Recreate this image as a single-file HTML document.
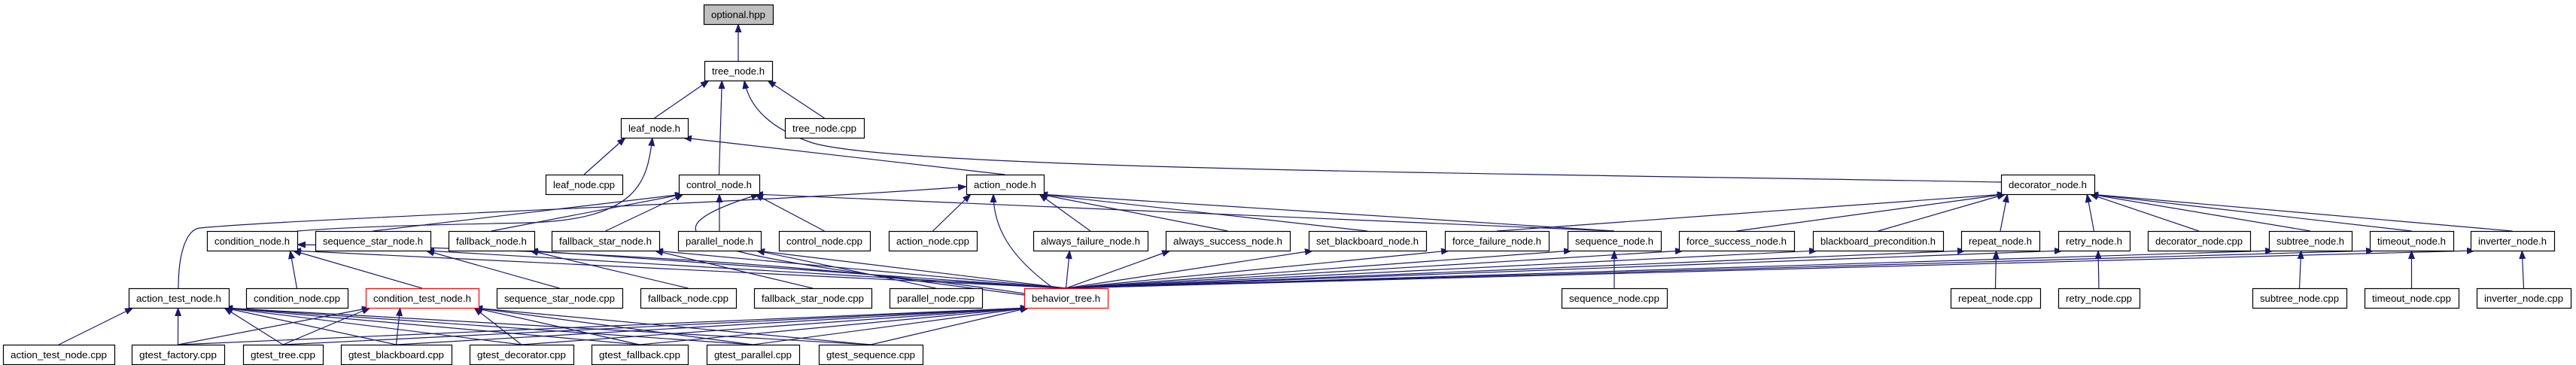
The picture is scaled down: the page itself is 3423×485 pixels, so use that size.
<!DOCTYPE html>
<html><head><meta charset="utf-8">
<style>
html,body{margin:0;padding:0;background:#fff;}
svg{display:block;}
text{font-family:"Liberation Sans",Helvetica,Arial,sans-serif;font-size:13px;fill:#000;}
</style></head>
<body>
<svg id="g" xmlns="http://www.w3.org/2000/svg" width="3423" height="485" viewBox="0 0 3423 485">
<defs>
<marker id="ah" markerWidth="12" markerHeight="9" refX="11" refY="4.5" orient="auto" markerUnits="userSpaceOnUse">
<path d="M0,0 L12,4.5 L0,9 z" fill="#191970"/>
</marker>
</defs>
<g id="edges" fill="none" stroke="#191970" stroke-width="1.2"></g>
<g id="nodes"></g>
</svg>
<script>
var R=[6,81,157,232,307,383,458],H=26;
var N={
"optional.hpp":[935,1027,0,"g"],
"tree_node.h":[936,1026,1],
"leaf_node.h":[825,914,2],
"tree_node.cpp":[1043,1148,2],
"leaf_node.cpp":[725,827,3],
"control_node.h":[902,1009,3],
"action_node.h":[1284,1387,3],
"decorator_node.h":[2659,2783,3],
"condition_node.h":[275,395,4],
"sequence_star_node.h":[419,572,4],
"fallback_node.h":[596,710,4],
"fallback_star_node.h":[733,876,4],
"parallel_node.h":[901,1011,4],
"control_node.cpp":[1035,1156,4],
"action_node.cpp":[1181,1298,4],
"always_failure_node.h":[1373,1525,4],
"always_success_node.h":[1549,1714,4],
"set_blackboard_node.h":[1739,1895,4],
"force_failure_node.h":[1920,2058,4],
"sequence_node.h":[2083,2207,4],
"force_success_node.h":[2231,2384,4],
"blackboard_precondition.h":[2409,2582,4],
"repeat_node.h":[2606,2710,4],
"retry_node.h":[2735,2830,4],
"decorator_node.cpp":[2854,2990,4],
"subtree_node.h":[3015,3125,4],
"timeout_node.h":[3149,3260,4],
"inverter_node.h":[3283,3394,4],
"action_test_node.h":[171,304,5],
"condition_node.cpp":[327,462,5],
"condition_test_node.h":[486,636,5,"r"],
"sequence_star_node.cpp":[660,827,5],
"fallback_node.cpp":[851,978,5],
"fallback_star_node.cpp":[1002,1158,5],
"parallel_node.cpp":[1182,1305,5],
"behavior_tree.h":[1361,1472,5,"r"],
"sequence_node.cpp":[2075,2215,5],
"repeat_node.cpp":[2592,2711,5],
"retry_node.cpp":[2735,2843,5],
"subtree_node.cpp":[2993,3118,5],
"timeout_node.cpp":[3142,3267,5],
"inverter_node.cpp":[3291,3416,5],
"action_test_node.cpp":[4,152,6],
"gtest_factory.cpp":[175,298,6],
"gtest_tree.cpp":[323,429,6],
"gtest_blackboard.cpp":[453,600,6],
"gtest_decorator.cpp":[624,762,6],
"gtest_fallback.cpp":[786,914,6],
"gtest_parallel.cpp":[939,1062,6],
"gtest_sequence.cpp":[1088,1226,6]
};
var E=[
["tree_node.h","optional.hpp"],
["leaf_node.h","tree_node.h"],["tree_node.cpp","tree_node.h"],["control_node.h","tree_node.h"],
["leaf_node.cpp","leaf_node.h"],["action_node.h","leaf_node.h"],
["sequence_star_node.h","control_node.h"],["fallback_node.h","control_node.h"],["fallback_star_node.h","control_node.h"],
["parallel_node.h","control_node.h"],["control_node.cpp","control_node.h"],["sequence_node.h","control_node.h"],
["action_node.cpp","action_node.h"],["always_failure_node.h","action_node.h"],["always_success_node.h","action_node.h"],
["set_blackboard_node.h","action_node.h"],["sequence_node.h","action_node.h"],
["force_failure_node.h","decorator_node.h"],["force_success_node.h","decorator_node.h"],["blackboard_precondition.h","decorator_node.h"],
["repeat_node.h","decorator_node.h"],["retry_node.h","decorator_node.h"],["decorator_node.cpp","decorator_node.h"],
["subtree_node.h","decorator_node.h"],["timeout_node.h","decorator_node.h"],["inverter_node.h","decorator_node.h"],
["condition_node.cpp","condition_node.h"],["condition_test_node.h","condition_node.h"],
["sequence_star_node.cpp","sequence_star_node.h"],["fallback_node.cpp","fallback_node.h"],["fallback_star_node.cpp","fallback_star_node.h"],
["parallel_node.cpp","parallel_node.h"],["sequence_node.cpp","sequence_node.h"],["repeat_node.cpp","repeat_node.h"],
["retry_node.cpp","retry_node.h"],["subtree_node.cpp","subtree_node.h"],["timeout_node.cpp","timeout_node.h"],["inverter_node.cpp","inverter_node.h"],
["action_test_node.cpp","action_test_node.h"]
];
["condition_node.h","sequence_star_node.h","fallback_node.h","fallback_star_node.h","parallel_node.h","always_failure_node.h","always_success_node.h","set_blackboard_node.h","force_failure_node.h","sequence_node.h","force_success_node.h","blackboard_precondition.h","repeat_node.h","retry_node.h","subtree_node.h","timeout_node.h","inverter_node.h"].forEach(function(p){E.push(["behavior_tree.h",p]);});
["gtest_factory.cpp","gtest_tree.cpp","gtest_blackboard.cpp","gtest_decorator.cpp","gtest_fallback.cpp","gtest_parallel.cpp","gtest_sequence.cpp"].forEach(function(c){
 E.push([c,"action_test_node.h"]);E.push([c,"condition_test_node.h"]);E.push([c,"behavior_tree.h"]);});
var NS="http://www.w3.org/2000/svg";
var eg=document.getElementById("edges"),ng=document.getElementById("nodes");
function box(n){var b=N[n];return {x1:b[0],x2:b[1],y1:R[b[2]],y2:R[b[2]]+H,cx:(b[0]+b[1])/2,cy:R[b[2]]+H/2};}
function clip(b,px,py){ // intersect line from center of b to (px,py) with b border
 var dx=px-b.cx,dy=py-b.cy,t=1e9;
 if(dx) t=Math.min(t,((dx>0?b.x2:b.x1)-b.cx)/dx);
 if(dy) t=Math.min(t,((dy>0?b.y2:b.y1)-b.cy)/dy);
 return [b.cx+dx*t,b.cy+dy*t];}
function addPath(d){var p=document.createElementNS(NS,"path");p.setAttribute("d",d);p.setAttribute("marker-end","url(#ah)");eg.appendChild(p);}
E.forEach(function(e){
 var c=box(e[0]),p=box(e[1]);
 var sx=c.cx,sy=c.y1;
 if(c.y1==p.y1){sy=c.cy;}
 var tx=Math.max(p.x1+6,Math.min(p.x2-6,sx+(p.cx-sx)*0.15)),ty=p.y2;
 if(p.y2>c.y1){ty=p.cy;tx=(sx<p.cx)?p.x1:p.x2;}
 addPath("M"+sx+","+sy+" L"+tx+","+ty);
});
// curves
addPath("M2659,242 C2000,230 1200,225 1080,190 C1020,170 995,140 989,107");
addPath("M395,307 C480,300 620,298 700,296 C850,292 860,240 867,183");
addPath("M237,383 C237,330 250,305 265,303 C400,290 1000,270 1284,248");
addPath("M1400,383 C1340,340 1320,300 1320,258");
addPath("M1361,390 C1100,350 700,330 395,325");
addPath("M1361,392 C1000,345 800,322 1009,258");
for(var n in N){
 var b=box(n),t=N[n][3];
 var r=document.createElementNS(NS,"rect");
 r.setAttribute("x",b.x1+0.5);r.setAttribute("y",b.y1+0.5);
 r.setAttribute("width",b.x2-b.x1);r.setAttribute("height",H);
 r.setAttribute("fill",t=="g"?"#bfbfbf":"#fff");
 r.setAttribute("stroke",t=="r"?"#ff0000":"#000");r.setAttribute("stroke-width","1.2");
 ng.appendChild(r);
 var s=document.createElementNS(NS,"text");
 s.setAttribute("x",b.x1+10);s.setAttribute("y",b.y1+18);
 s.setAttribute("textLength",Math.max(10,b.x2-b.x1-20));s.setAttribute("lengthAdjust","spacingAndGlyphs");
 s.textContent=n;ng.appendChild(s);
}
</script>
</body></html>
